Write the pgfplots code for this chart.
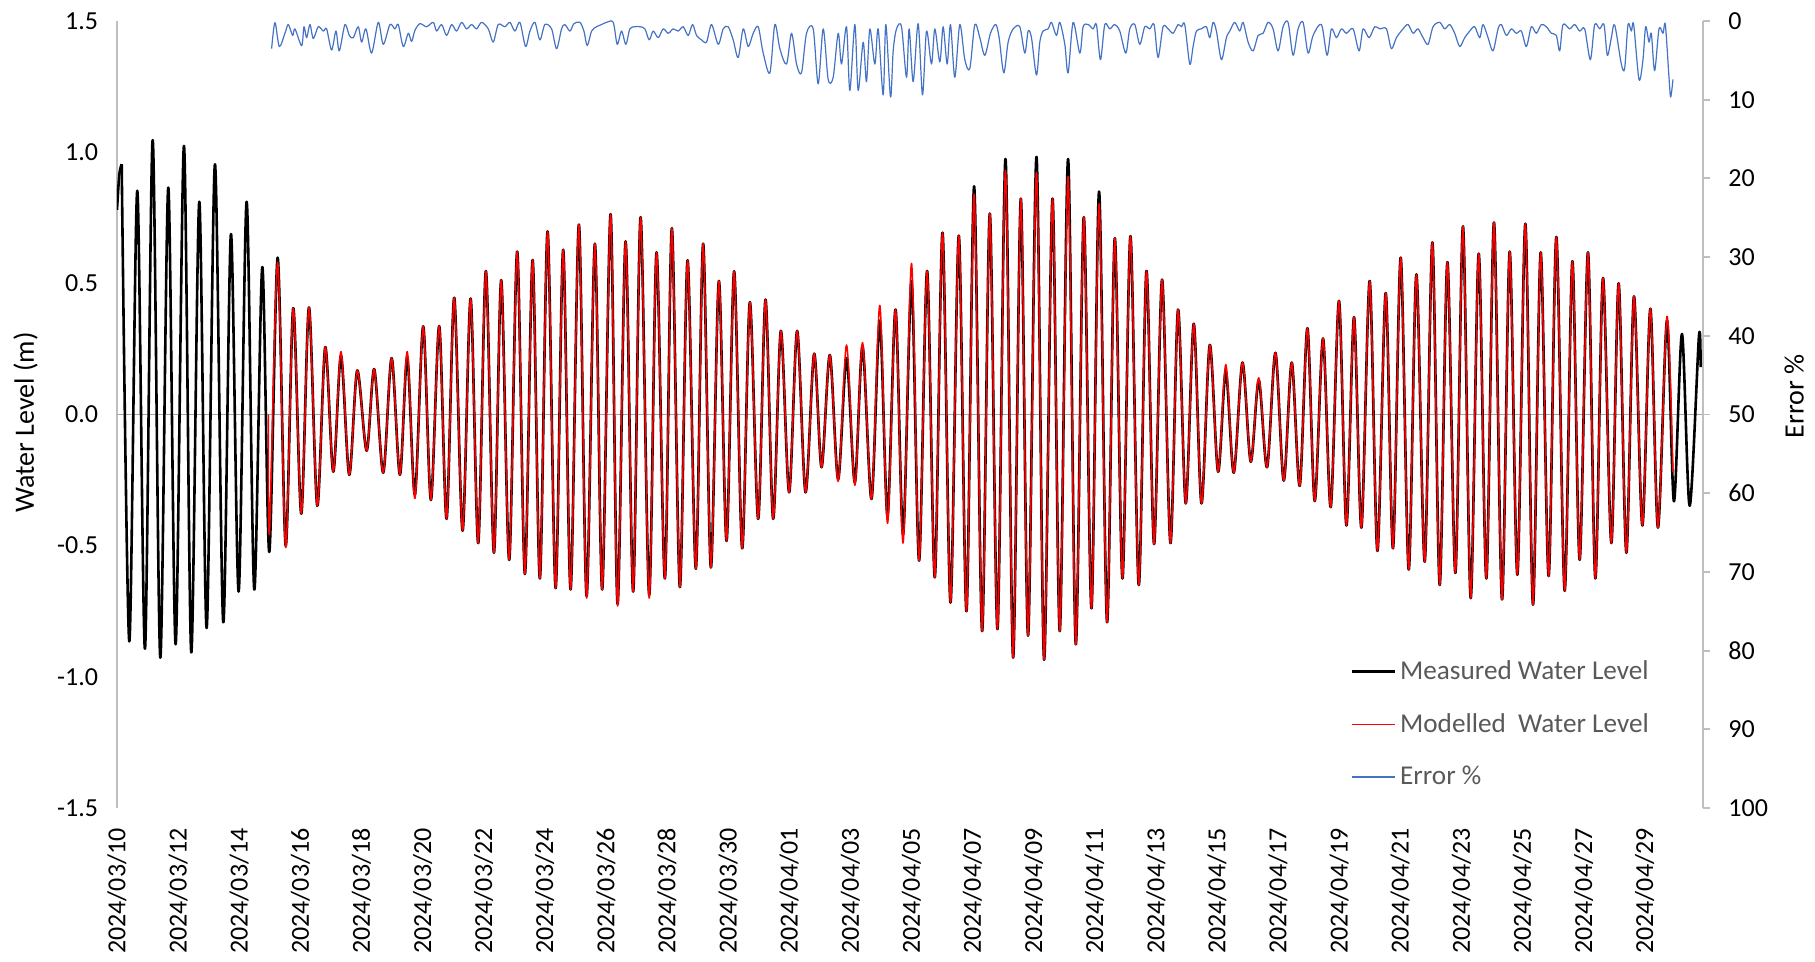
\documentclass[border=0pt]{standalone}
\usepackage{pgfplots}
\pgfplotsset{compat=1.18}
\usepackage{pgfplotstable}
\usepackage{fontspec}
\setmainfont{Carlito}
\definecolor{errblue}{HTML}{4472C4}
\definecolor{axgray}{HTML}{BFBFBF}
\definecolor{leggray}{HTML}{595959}

\pgfplotstableread[row sep=\\]{
u v\\
0.000 0.78\\ 0.075 0.915\\ 0.151 0.954\\ 0.396 -0.865\\ 0.653 0.853\\ 0.901 -0.893\\ 1.149 1.046\\ 1.394 -0.927\\ 1.651 0.865\\
1.889 -0.876\\ 2.156 1.024\\ 2.391 -0.907\\ 2.649 0.811\\ 2.887 -0.814\\ 3.154 0.954\\ 3.421 -0.792\\ 3.669 0.688\\
3.917 -0.675\\ 4.174 0.811\\ 4.419 -0.667\\ 4.677 0.562\\ 4.902 -0.524\\ 5.172 0.598\\ 5.430 -0.50\\ 5.674 0.405\\
5.932 -0.378\\ 6.180 0.408\\ 6.447 -0.348\\ 6.704 0.257\\ 6.962 -0.218\\ 7.210 0.225\\ 7.477 -0.23\\ 7.734 0.168\\
8.037 -0.138\\ 8.281 0.173\\ 8.571 -0.222\\ 8.841 0.215\\ 9.108 -0.23\\ 9.344 0.22\\ 9.591 -0.306\\ 9.858 0.336\\
10.106 -0.326\\ 10.373 0.337\\ 10.611 -0.398\\ 10.856 0.445\\ 11.126 -0.443\\ 11.384 0.442\\ 11.629 -0.490\\ 11.876 0.547\\
12.134 -0.527\\ 12.369 0.512\\ 12.627 -0.554\\ 12.884 0.621\\ 13.132 -0.608\\ 13.380 0.589\\ 13.614 -0.625\\ 13.862 0.698\\
14.120 -0.662\\ 14.364 0.628\\ 14.603 -0.667\\ 14.870 0.724\\ 15.118 -0.692\\ 15.385 0.651\\ 15.620 -0.667\\ 15.890 0.764\\
16.115 -0.722\\ 16.373 0.660\\ 16.617 -0.675\\ 16.856 0.752\\ 17.132 -0.688\\ 17.370 0.618\\ 17.638 -0.625\\ 17.863 0.710\\
18.120 -0.658\\ 18.368 0.588\\ 18.635 -0.588\\ 18.870 0.651\\ 19.118 -0.583\\ 19.376 0.509\\ 19.623 -0.482\\ 19.868 0.546\\
20.126 -0.510\\ 20.373 0.428\\ 20.641 -0.398\\ 20.878 0.438\\ 21.123 -0.398\\ 21.371 0.319\\ 21.638 -0.297\\ 21.896 0.319\\
22.166 -0.297\\ 22.443 0.232\\ 22.681 -0.201\\ 22.948 0.227\\ 23.215 -0.247\\ 23.486 0.215\\ 23.753 -0.259\\ 24.001 0.26\\
24.290 -0.322\\ 24.557 0.358\\ 24.805 -0.386\\ 25.063 0.400\\ 25.307 -0.457\\ 25.578 0.509\\ 25.822 -0.557\\ 26.080 0.547\\
26.328 -0.621\\ 26.576 0.693\\ 26.833 -0.717\\ 27.100 0.682\\ 27.348 -0.750\\ 27.593 0.870\\ 27.850 -0.826\\ 28.098 0.766\\
28.346 -0.818\\ 28.603 0.974\\ 28.848 -0.927\\ 29.096 0.823\\ 29.331 -0.843\\ 29.601 0.982\\ 29.846 -0.935\\ 30.116 0.823\\
30.351 -0.826\\ 30.618 0.974\\ 30.866 -0.876\\ 31.123 0.752\\ 31.371 -0.739\\ 31.616 0.850\\ 31.873 -0.792\\ 32.121 0.672\\
32.369 -0.625\\ 32.626 0.680\\ 32.893 -0.650\\ 33.141 0.547\\ 33.386 -0.494\\ 33.644 0.514\\ 33.913 -0.490\\ 34.158 0.400\\
34.406 -0.339\\ 34.664 0.346\\ 34.912 -0.339\\ 35.179 0.265\\ 35.446 -0.218\\ 35.694 0.165\\ 35.951 -0.222\\ 36.231 0.198\\
36.498 -0.180\\ 36.756 0.131\\ 37.023 -0.201\\ 37.293 0.235\\ 37.560 -0.252\\ 37.818 0.198\\ 38.075 -0.272\\ 38.323 0.329\\
38.558 -0.33\\ 38.825 0.290\\ 39.073 -0.353\\ 39.340 0.433\\ 39.578 -0.423\\ 39.823 0.371\\ 40.061 -0.431\\ 40.328 0.509\\
40.576 -0.520\\ 40.843 0.463\\ 41.078 -0.510\\ 41.326 0.598\\ 41.584 -0.591\\ 41.831 0.534\\ 42.099 -0.561\\ 42.346 0.656\\
42.581 -0.650\\ 42.829 0.581\\ 43.087 -0.604\\ 43.331 0.717\\ 43.579 -0.700\\ 43.837 0.613\\ 44.084 -0.625\\ 44.329 0.732\\
44.587 -0.705\\ 44.834 0.621\\ 45.082 -0.611\\ 45.339 0.727\\ 45.584 -0.725\\ 45.832 0.618\\ 46.089 -0.616\\ 46.337 0.677\\
46.604 -0.672\\ 46.852 0.584\\ 47.087 -0.554\\ 47.355 0.618\\ 47.592 -0.625\\ 47.837 0.520\\ 48.107 -0.490\\ 48.342 0.500\\
48.590 -0.527\\ 48.835 0.450\\ 49.105 -0.423\\ 49.363 0.403\\ 49.607 -0.431\\ 49.897 0.358\\ 50.122 -0.331\\ 50.380 0.307\\
50.628 -0.348\\ 50.927 0.299\\ 50.980 0.181\\
}\measured

\pgfplotstableread[row sep=\\]{
u v\\
4.870 0.0\\ 4.910 -0.45\\ 5.172 0.58\\ 5.430 -0.507\\ 5.674 0.405\\
5.932 -0.378\\ 6.180 0.408\\ 6.447 -0.348\\ 6.704 0.257\\ 6.962 -0.218\\ 7.210 0.24\\ 7.477 -0.23\\ 7.734 0.168\\
8.037 -0.138\\ 8.281 0.173\\ 8.571 -0.222\\ 8.841 0.215\\ 9.108 -0.23\\ 9.344 0.24\\ 9.591 -0.32\\ 9.858 0.336\\
10.106 -0.326\\ 10.373 0.337\\ 10.611 -0.398\\ 10.856 0.445\\ 11.126 -0.443\\ 11.384 0.442\\ 11.629 -0.490\\ 11.876 0.547\\
12.134 -0.527\\ 12.369 0.512\\ 12.627 -0.554\\ 12.884 0.621\\ 13.132 -0.608\\ 13.380 0.589\\ 13.614 -0.625\\ 13.862 0.698\\
14.120 -0.662\\ 14.364 0.628\\ 14.603 -0.667\\ 14.870 0.724\\ 15.118 -0.70\\ 15.385 0.651\\ 15.620 -0.667\\ 15.890 0.764\\
16.115 -0.73\\ 16.373 0.660\\ 16.617 -0.675\\ 16.856 0.752\\ 17.132 -0.70\\ 17.370 0.618\\ 17.638 -0.625\\ 17.863 0.710\\
18.120 -0.658\\ 18.368 0.588\\ 18.635 -0.588\\ 18.870 0.651\\ 19.118 -0.583\\ 19.376 0.509\\ 19.623 -0.482\\ 19.868 0.546\\
20.126 -0.510\\ 20.373 0.428\\ 20.641 -0.398\\ 20.878 0.438\\ 21.123 -0.398\\ 21.371 0.319\\ 21.638 -0.297\\ 21.896 0.319\\
22.166 -0.297\\ 22.443 0.232\\ 22.681 -0.201\\ 22.948 0.227\\ 23.215 -0.255\\ 23.486 0.265\\ 23.753 -0.27\\ 24.001 0.274\\
24.290 -0.322\\ 24.557 0.416\\ 24.805 -0.415\\ 25.063 0.400\\ 25.307 -0.49\\ 25.578 0.576\\ 25.822 -0.557\\ 26.080 0.547\\
26.328 -0.621\\ 26.576 0.693\\ 26.833 -0.717\\ 27.100 0.682\\ 27.348 -0.750\\ 27.593 0.84\\ 27.850 -0.826\\ 28.098 0.766\\
28.346 -0.818\\ 28.603 0.93\\ 28.848 -0.927\\ 29.096 0.823\\ 29.331 -0.843\\ 29.601 0.923\\ 29.846 -0.935\\ 30.116 0.823\\
30.351 -0.826\\ 30.618 0.907\\ 30.866 -0.876\\ 31.123 0.752\\ 31.371 -0.739\\ 31.616 0.803\\ 31.873 -0.792\\ 32.121 0.672\\
32.369 -0.625\\ 32.626 0.680\\ 32.893 -0.650\\ 33.141 0.547\\ 33.386 -0.494\\ 33.644 0.514\\ 33.913 -0.490\\ 34.158 0.400\\
34.406 -0.339\\ 34.664 0.346\\ 34.912 -0.339\\ 35.179 0.265\\ 35.446 -0.218\\ 35.694 0.19\\ 35.951 -0.222\\ 36.231 0.198\\
36.498 -0.180\\ 36.756 0.14\\ 37.023 -0.201\\ 37.293 0.235\\ 37.560 -0.252\\ 37.818 0.198\\ 38.075 -0.272\\ 38.323 0.329\\
38.558 -0.33\\ 38.825 0.290\\ 39.073 -0.353\\ 39.340 0.433\\ 39.578 -0.423\\ 39.823 0.371\\ 40.061 -0.431\\ 40.328 0.509\\
40.576 -0.520\\ 40.843 0.463\\ 41.078 -0.510\\ 41.326 0.598\\ 41.584 -0.591\\ 41.831 0.534\\ 42.099 -0.561\\ 42.346 0.656\\
42.581 -0.650\\ 42.829 0.581\\ 43.087 -0.604\\ 43.331 0.717\\ 43.579 -0.700\\ 43.837 0.613\\ 44.084 -0.625\\ 44.329 0.732\\
44.587 -0.705\\ 44.834 0.621\\ 45.082 -0.611\\ 45.339 0.727\\ 45.584 -0.725\\ 45.832 0.618\\ 46.089 -0.616\\ 46.337 0.677\\
46.604 -0.672\\ 46.852 0.584\\ 47.087 -0.554\\ 47.355 0.618\\ 47.592 -0.625\\ 47.837 0.520\\ 48.107 -0.490\\ 48.342 0.500\\
48.590 -0.527\\ 48.835 0.450\\ 49.105 -0.423\\ 49.363 0.403\\ 49.607 -0.431\\ 49.897 0.374\\ 50.090 -0.22\\
}\modelled

\pgfplotstableread[row sep=\\]{
u e\\
4.978 3.5\\ 5.085 0.2\\ 5.225 3.24\\ 5.407 1.56\\ 5.514 0.45\\ 5.654 1.84\\ 5.729 1.0\\ 5.944 3.13\\ 6.019 0.73\\ 6.105 2.12\\
6.212 0.45\\ 6.319 2.23\\ 6.480 0.73\\ 6.641 1.28\\ 6.748 1.0\\ 6.909 3.69\\ 7.049 1.28\\ 7.156 3.80\\ 7.338 0.45\\ 7.478 1.84\\
7.606 2.12\\ 7.767 0.73\\ 7.875 2.68\\ 8.014 1.0\\ 8.197 4.08\\ 8.411 0.17\\ 8.572 2.96\\ 8.787 0.45\\ 8.948 1.0\\ 9.055 0.45\\
9.216 3.24\\ 9.377 1.56\\ 9.484 2.6\\ 9.590 1.2\\ 9.752 0.34\\ 9.967 0.73\\ 10.181 0.17\\ 10.289 1.28\\ 10.450 0.45\\ 10.611 1.84\\
10.772 0.45\\ 10.932 1.28\\ 11.093 0.17\\ 11.254 1.0\\ 11.415 0.45\\ 11.576 1.0\\ 11.737 0.17\\ 11.952 1.0\\ 12.112 2.68\\ 12.273 0.45\\
12.488 0.73\\ 12.649 0.17\\ 12.810 1.28\\ 12.971 0.17\\ 13.153 3.24\\ 13.293 1.28\\ 13.453 0.17\\ 13.614 2.4\\ 13.775 0.45\\ 13.990 1.0\\
14.151 3.52\\ 14.312 1.0\\ 14.419 0.45\\ 14.580 1.28\\ 14.709 0.34\\ 14.902 0.17\\ 15.031 1.28\\ 15.138 3.13\\ 15.278 1.28\\ 15.438 0.73\\
15.599 0.45\\ 15.760 0.17\\ 15.975 0.17\\ 16.103 2.96\\ 16.243 1.28\\ 16.382 2.96\\ 16.511 1.0\\ 16.672 0.73\\ 16.833 0.73\\ 16.994 1.0\\
17.133 2.4\\ 17.262 1.28\\ 17.423 2.12\\ 17.584 1.0\\ 17.745 1.56\\ 17.906 1.0\\ 18.067 1.28\\ 18.228 0.73\\ 18.389 1.84\\ 18.528 0.45\\
18.657 1.84\\ 18.818 2.4\\ 18.979 2.68\\ 19.140 0.45\\ 19.354 2.96\\ 19.515 1.0\\ 19.676 0.73\\ 19.837 2.4\\ 19.998 4.64\\ 20.159 1.0\\
20.320 3.24\\ 20.481 1.56\\ 20.642 0.73\\ 20.803 4.08\\ 21.017 6.59\\ 21.178 0.45\\ 21.339 3.52\\ 21.554 5.47\\ 21.715 1.56\\ 21.876 5.47\\
22.036 6.59\\ 22.197 1.56\\ 22.412 1.0\\ 22.573 7.99\\ 22.734 1.0\\ 22.895 7.43\\ 23.056 7.15\\ 23.217 1.56\\ 23.324 5.47\\ 23.485 0.73\\
23.592 8.83\\ 23.753 0.45\\ 23.860 8.83\\ 24.021 2.7\\ 24.128 7.71\\ 24.236 1.01\\ 24.397 5.47\\ 24.504 1.0\\ 24.665 9.39\\ 24.751 0.45\\
24.901 9.66\\ 24.987 3.8\\ 25.094 1.0\\ 25.255 0.73\\ 25.416 7.15\\ 25.502 1.0\\ 25.631 7.71\\ 25.791 0.34\\ 25.931 9.39\\ 26.060 1.28\\
26.221 5.47\\ 26.328 1.0\\ 26.489 5.2\\ 26.596 0.73\\ 26.725 5.47\\ 26.832 0.45\\ 26.971 7.15\\ 27.132 0.45\\ 27.293 4.92\\ 27.454 6.03\\
27.615 0.45\\ 27.776 2.12\\ 27.937 4.36\\ 28.119 1.56\\ 28.291 0.45\\ 28.398 2.12\\ 28.548 6.59\\ 28.688 2.68\\ 28.849 1.0\\ 29.063 0.73\\
29.224 4.08\\ 29.331 1.28\\ 29.439 2.12\\ 29.600 6.87\\ 29.707 2.68\\ 29.814 1.28\\ 29.975 1.0\\ 30.083 0.17\\ 30.243 1.84\\ 30.351 0.17\\
30.512 2.96\\ 30.619 6.59\\ 30.780 0.17\\ 30.995 4.08\\ 31.102 0.73\\ 31.263 0.45\\ 31.424 1.0\\ 31.531 0.45\\ 31.660 4.92\\ 31.799 0.45\\
31.960 1.0\\ 32.121 0.45\\ 32.282 1.28\\ 32.475 4.08\\ 32.604 1.0\\ 32.765 0.45\\ 32.926 2.96\\ 33.087 0.73\\ 33.248 1.0\\ 33.387 0.45\\
33.515 4.64\\ 33.676 0.73\\ 33.837 1.0\\ 33.998 1.56\\ 34.159 0.45\\ 34.267 0.73\\ 34.374 0.45\\ 34.535 5.47\\ 34.642 3.24\\ 34.749 1.28\\
34.910 1.0\\ 35.071 0.73\\ 35.179 2.12\\ 35.286 0.17\\ 35.393 1.28\\ 35.554 4.92\\ 35.715 2.12\\ 35.823 1.28\\ 35.984 0.17\\ 36.144 1.28\\
36.252 0.17\\ 36.413 2.68\\ 36.574 3.8\\ 36.735 1.84\\ 36.896 1.56\\ 37.056 0.17\\ 37.217 1.0\\ 37.378 3.8\\ 37.539 0.73\\ 37.700 0.17\\
37.861 4.36\\ 38.022 1.0\\ 38.183 0.17\\ 38.344 4.08\\ 38.505 1.84\\ 38.773 0.45\\ 38.955 4.36\\ 39.095 1.0\\ 39.256 2.12\\ 39.417 1.0\\
39.578 1.56\\ 39.792 1.0\\ 39.985 3.8\\ 40.114 1.0\\ 40.307 2.12\\ 40.489 0.73\\ 40.650 1.0\\ 40.865 1.0\\ 41.026 3.52\\ 41.187 2.12\\
41.401 1.0\\ 41.562 0.45\\ 41.723 1.56\\ 41.884 1.0\\ 42.045 2.12\\ 42.206 2.96\\ 42.367 0.73\\ 42.581 0.17\\ 42.742 1.0\\ 42.903 0.45\\
43.064 1.56\\ 43.225 3.24\\ 43.386 2.12\\ 43.547 1.28\\ 43.708 0.73\\ 43.869 2.12\\ 43.976 0.45\\ 44.137 2.12\\ 44.298 3.8\\ 44.459 1.0\\
44.566 0.45\\ 44.727 1.84\\ 44.888 1.0\\ 45.049 1.56\\ 45.210 1.28\\ 45.371 3.24\\ 45.532 0.73\\ 45.692 1.56\\ 45.853 0.45\\ 46.014 0.73\\
46.175 1.56\\ 46.336 1.84\\ 46.444 3.8\\ 46.551 0.45\\ 46.766 1.0\\ 46.927 0.45\\ 47.088 1.28\\ 47.248 1.0\\ 47.431 4.92\\ 47.570 0.45\\
47.731 1.0\\ 47.870 0.45\\ 47.978 4.36\\ 48.107 2.12\\ 48.214 0.5\\ 48.428 5.47\\ 48.535 6.03\\ 48.643 0.45\\ 48.750 1.28\\ 48.825 0.45\\
48.997 7.43\\ 49.125 4.92\\ 49.211 0.73\\ 49.319 2.68\\ 49.394 1.56\\ 49.501 6.31\\ 49.641 1.0\\ 49.769 1.56\\ 49.845 0.45\\ 49.962 7.15\\
50.016 9.66\\ 50.091 7.43\\
}\errortab

\begin{document}
\begin{tikzpicture}
\begin{axis}[
  at={(0,0)}, anchor=south west,
  scale only axis, width=793pt, height=393.5pt,
  xmin=0, xmax=51.91, ymin=-1.5, ymax=1.5,
  axis y line*=left, axis x line*=bottom,
  x axis line style={draw=none},
  y axis line style={draw=axgray, line width=0.9pt},
  xtick={0,2,...,50},
  xticklabels={2024/03/10,2024/03/12,2024/03/14,2024/03/16,2024/03/18,2024/03/20,2024/03/22,2024/03/24,2024/03/26,2024/03/28,2024/03/30,2024/04/01,2024/04/03,2024/04/05,2024/04/07,2024/04/09,2024/04/11,2024/04/13,2024/04/15,2024/04/17,2024/04/19,2024/04/21,2024/04/23,2024/04/25,2024/04/27,2024/04/29},
  xtick style={draw=none},
  x tick label style={rotate=90, anchor=east, font=\fontsize{13}{15}\selectfont, inner sep=0pt},
  xticklabel shift=10pt,
  ytick={-1.5,-1,-0.5,0,0.5,1,1.5},
  ytick style={draw=none},
  y tick label style={font=\fontsize{13}{15}\selectfont, inner sep=0pt,
     /pgf/number format/.cd, fixed, fixed zerofill, precision=1, assume math mode=true},
  yticklabel shift=9.3pt,
  extra y ticks={0}, extra y tick labels={},
  extra y tick style={grid=major, major grid style={draw=gray!70, line width=0.7pt}},
  ylabel={Water Level (m)},
  ylabel style={at={(rel axis cs:-0.0577,0.49)}, anchor=center, font=\fontsize{14}{16}\selectfont},
  clip=true,
]
\addplot[black, line width=1.3pt, smooth, line join=round, skip coords between index={3}{400}] table[x expr=\thisrow{u}*1.01669, y=v] {\measured};
\addplot[black, line width=1.3pt, smooth, line join=round, skip coords between index={0}{2}] table[x expr=\thisrow{u}*1.01669, y=v] {\measured};
\addplot[red, line width=0.75pt, smooth, line join=round] table[x expr=\thisrow{u}*1.01669, y=v] {\modelled};
\end{axis}
\begin{axis}[
  at={(0,0)}, anchor=south west,
  scale only axis, width=793pt, height=393.5pt,
  xmin=0, xmax=51.91, ymin=0, ymax=100, y dir=reverse,
  axis y line*=right, hide x axis,
  y axis line style={draw=axgray, line width=0.9pt},
  ytick={0,10,...,100},
  ytick style={draw=axgray, line width=0.9pt},
  tick align=outside, major tick length=3.3pt,
  y tick label style={font=\fontsize{13}{15}\selectfont, inner sep=0pt, anchor=west,
     /pgf/number format/assume math mode=true},
  yticklabel shift=9.2pt,
  ylabel={Error \%},
  ylabel style={at={(rel axis cs:1.0574,0.523)}, anchor=center, font=\fontsize{14}{16}\selectfont},
  legend cell align=left,
  legend image code/.code={\draw[#1] (0pt,0pt) -- (21.5pt,0pt);},
  legend style={draw=none, fill=none, at={(rel axis cs:0.7775,0.193)}, anchor=north west,
     inner sep=0pt, row sep=11.5pt, text=leggray,
     font=\fontsize{13.6}{16}\selectfont, nodes={inner sep=2pt}},
]
\addlegendimage{black, line width=1.3pt}
\addlegendentry{Measured Water Level}
\addlegendimage{red, line width=0.75pt}
\addlegendentry{Modelled~ Water Level}
\addplot[errblue, line width=0.6pt, smooth, line join=round] table[x expr=\thisrow{u}*1.01669, y=e] {\errortab};
\addlegendentry{Error \%}
\end{axis}
\pgfresetboundingbox
\path[use as bounding box] (-58.5pt,-77pt) rectangle (849pt,404pt);
\end{tikzpicture}
\end{document}
